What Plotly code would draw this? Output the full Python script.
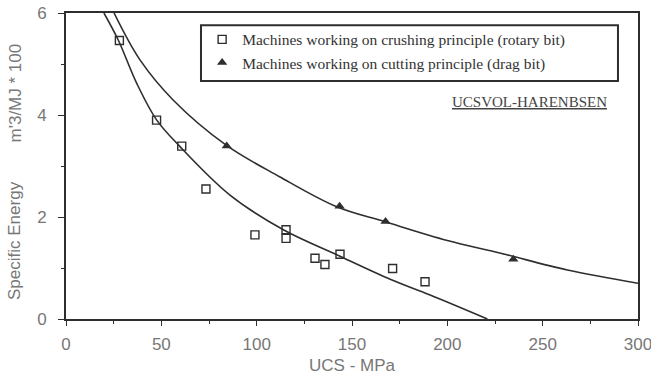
import plotly.graph_objects as go

# Data
crush_ucs = [28, 47.5, 60.7, 73.4, 99.1, 115.4, 115.4, 130.6, 135.8, 143.7, 171.3, 188.3]
crush_se = [5.46, 3.90, 3.39, 2.55, 1.65, 1.75, 1.58, 1.19, 1.07, 1.27, 0.99, 0.73]

cut_ucs = [84.3, 143.5, 167.6, 234.6]
cut_se = [3.39, 2.21, 1.91, 1.17]

# Trend curves
crush_fit_x = [19.9, 27.4, 37.1, 47.6, 59.8, 86, 114, 142, 170, 191, 221]
crush_fit_y = [6.0, 5.47, 4.62, 3.90, 3.38, 2.43, 1.75, 1.26, 0.78, 0.47, 0.0]

cut_fit_x = [25.2, 38.8, 56.3, 84, 112, 142, 167, 200, 228, 263, 300]
cut_fit_y = [6.0, 5.08, 4.29, 3.41, 2.79, 2.20, 1.91, 1.54, 1.29, 0.96, 0.70]

x_ticks = [0, 50, 100, 150, 200, 250, 300]
y_ticks = [0, 2, 4, 6]

line_col = "#2e2e2e"
text_col = "#777777"

fig = go.Figure()
fig.add_trace(go.Scatter(x=crush_fit_x, y=crush_fit_y, mode="lines",
                         line=dict(color=line_col, width=1.6, shape="spline", smoothing=1.0),
                         showlegend=False, hoverinfo="skip"))
fig.add_trace(go.Scatter(x=cut_fit_x, y=cut_fit_y, mode="lines",
                         line=dict(color=line_col, width=1.6, shape="spline", smoothing=1.0),
                         showlegend=False, hoverinfo="skip"))
fig.add_trace(go.Scatter(x=crush_ucs, y=crush_se, mode="markers",
                         name="Machines working on crushing principle (rotary bit)",
                         marker=dict(symbol="square-open", size=8, color=line_col,
                                     line=dict(width=1.4, color=line_col))))
fig.add_trace(go.Scatter(x=cut_ucs, y=cut_se, mode="markers",
                         name="Machines working on cutting principle (drag bit)",
                         marker=dict(symbol="triangle-up", size=9, color=line_col)))

# legend frame
fig.add_shape(type="rect", xref="paper", yref="paper",
              x0=0.236, x1=0.965, y0=0.778, y1=0.96,
              line=dict(color=line_col, width=2), fillcolor="rgba(0,0,0,0)", layer="above")

fig.add_annotation(x=0.811, y=0.71, xref="paper", yref="paper",
                   text="<u>UCSVOL-HARENBSEN</u>", showarrow=False,
                   xanchor="center", yanchor="middle",
                   font=dict(family="Liberation Serif", size=15, color="#444444"))

# y-axis title in two parts (wide gap as in the reference)
y_title_parts = ["Specific Energy", "m'3/MJ * 100"]
y_title_pos = [0.255, 0.737]
for txt, yp in zip(y_title_parts, y_title_pos):
    fig.add_annotation(x=0, y=yp, xref="paper", yref="paper", text=txt,
                       textangle=-90, showarrow=False, xanchor="center", yanchor="middle",
                       xshift=-51, font=dict(size=17, color=text_col))

fig.update_layout(
    width=651, height=376,
    margin=dict(l=66, r=13, t=13, b=57, autoexpand=False),
    paper_bgcolor="white", plot_bgcolor="white",
    font=dict(family="Liberation Sans", color=text_col, size=17),
    legend=dict(x=0.238, y=0.968, xanchor="left", yanchor="top",
                borderwidth=0, bgcolor="rgba(255,255,255,0)",
                font=dict(family="Liberation Serif", size=15.5, color="#333333"),
                itemwidth=30, tracegroupgap=0),
    xaxis=dict(range=[0, 300], tickvals=x_ticks, ticks="outside", ticklen=5,
               tickcolor=line_col, showline=True, linecolor=line_col, linewidth=2,
               mirror=True, showgrid=False, zeroline=False, automargin=False,
               tickfont=dict(size=17, color=text_col), ticklabelstandoff=4,
               ticklabeloverflow="allow",
               minor=dict(dtick=25, ticks="outside", ticklen=3, tickcolor=line_col),
               title=dict(text="UCS - MPa", font=dict(size=17, color=text_col), standoff=6)),
    yaxis=dict(range=[0, 6], tickvals=y_ticks, ticks="outside", ticklen=6,
               tickcolor=line_col, showline=True, linecolor=line_col, linewidth=2,
               mirror=True, showgrid=False, zeroline=False, automargin=False,
               tickfont=dict(size=17, color=text_col), ticklabelstandoff=8,
               ticklabeloverflow="allow",
               minor=dict(dtick=1, ticks="outside", ticklen=3, tickcolor=line_col)),
)

fig.write_html("out.html", config={"displayModeBar": False},
               post_script="document.body.style.margin='0';document.body.style.overflow='hidden';")
